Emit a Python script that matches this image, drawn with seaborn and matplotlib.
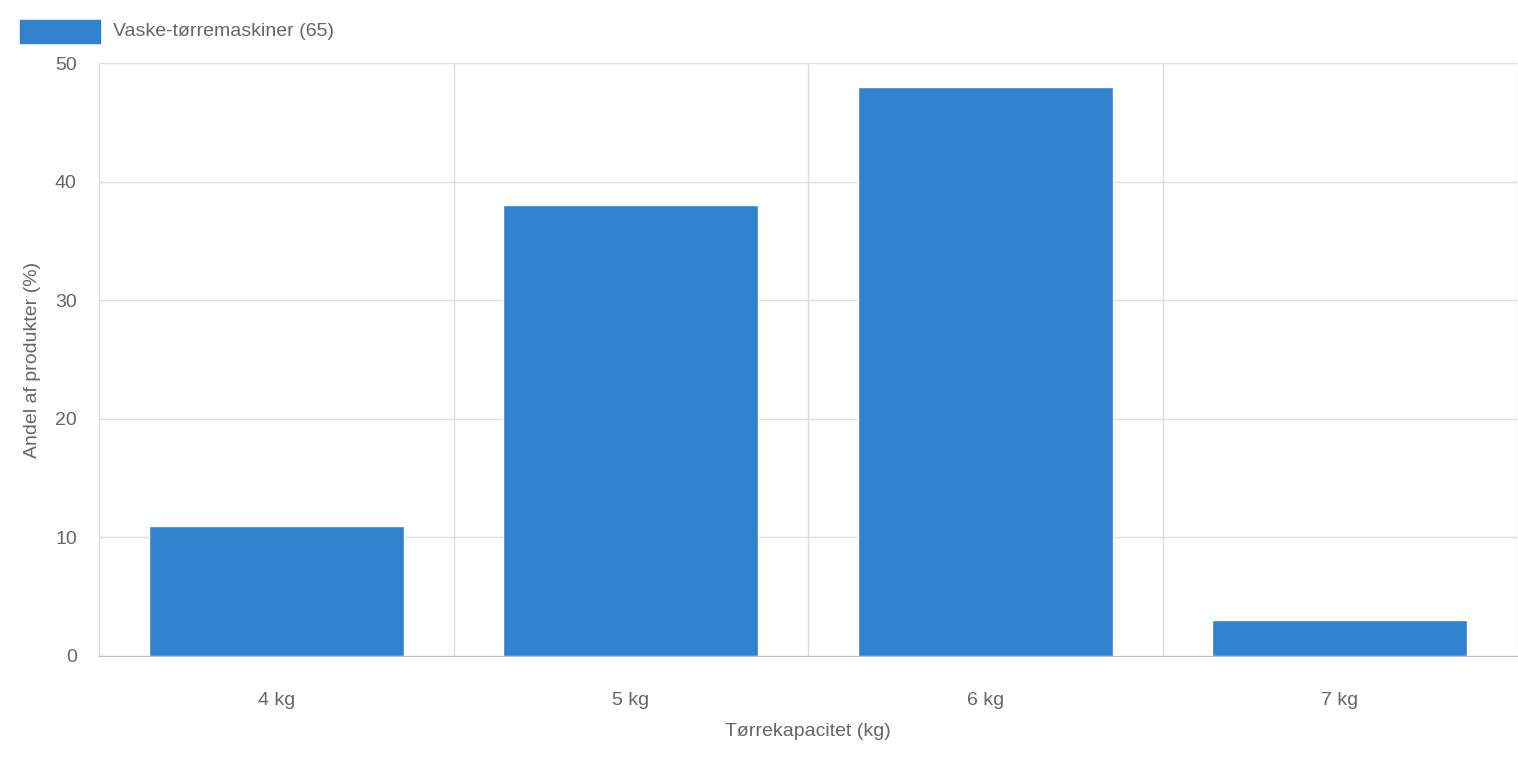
import matplotlib
matplotlib.use("Agg")
import matplotlib.pyplot as plt
import seaborn as sns
import pandas as pd
from matplotlib.patches import Rectangle

categories = ["4 kg", "5 kg", "6 kg", "7 kg"]
values = [11, 38, 48, 3]
series_name = "Vaske-tørremaskiner (65)"
yticks = [0, 10, 20, 30, 40, 50]

sns.set_style("white")
plt.rcParams['font.family'] = ['Liberation Sans', 'DejaVu Sans']
txt = "#666666"
grid = "#dddddd"

fig = plt.figure(figsize=(15.18, 7.58), dpi=100)
ax = fig.add_axes([99/1518, 102/758, 1418/1518, 593/758])
df = pd.DataFrame({"cat": categories, "val": values})
sns.barplot(data=df, x="cat", y="val", color="#3182CE", saturation=1, width=0.72, ax=ax)

ax.set_xlim(-0.5, 3.5)
ax.set_ylim(0, 50)
ax.set_yticks(yticks)
ax.set_xticks([-0.5, 0.5, 1.5, 2.5, 3.5], minor=True)
ax.grid(True, which="minor", axis="x", color=grid, lw=1)
ax.grid(True, which="major", axis="y", color=grid, lw=1)
ax.set_axisbelow(True)
ax.tick_params(axis="x", which="major", length=0, pad=26, labelsize=14, labelcolor=txt)
ax.tick_params(axis="x", which="minor", length=11.5, color=grid, width=1)
ax.tick_params(axis="y", length=8, color=grid, pad=8, labelsize=14, labelcolor=txt)
for s in ["top", "right"]:
    ax.spines[s].set_visible(False)
ax.spines["left"].set_color(grid)
ax.spines["bottom"].set_color("#bbbbbb")
ax.set_xlabel("Tørrekapacitet (kg)", fontsize=14, color=txt, labelpad=10)
ax.set_ylabel("Andel af produkter (%)", fontsize=14, color=txt, labelpad=10)

fig.patches.append(Rectangle((20/1518, 1-43/758), 80/1518, 23/758,
                             transform=fig.transFigure, color="#3182CE"))
fig.text(113/1518, 1-32/758, series_name, fontsize=14, color=txt, va="center")

fig.savefig("out.png", dpi=100)
